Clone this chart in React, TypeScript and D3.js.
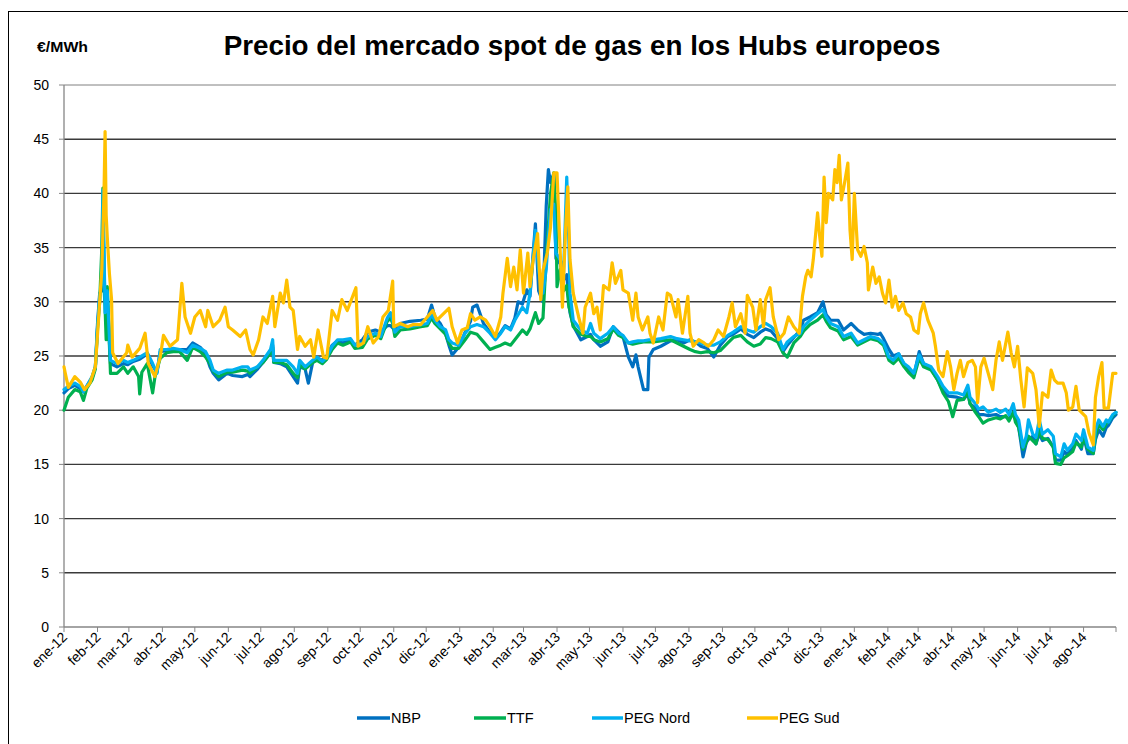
import React from "react";
import * as d3 from "d3";

// Day offsets from 2012-01-01 with price values (€/MWh)
const nbp: [number, number][] = [[0,21.6],[4,22],[10,22.3],[15,22],[18,21.7],[21,22.2],[26,23],[29,24],[31,28],[33,30.8],[35,31],[36,38],[37,33],[38,30],[40,30.5],[43,24.3],[49,24],[55,24.3],[59,24.2],[64,24.5],[70,24.7],[77,25.2],[82,24.1],[86,23.5],[89,25.4],[95,25.5],[101,25.6],[107,25.6],[114,25.6],[119,26.2],[126,25.8],[131,25.2],[135,24],[138,23.4],[143,22.8],[151,23.4],[156,23.2],[165,23.1],[170,23.3],[172,23.1],[179,23.8],[184,24.4],[191,25.3],[193,26],[194,24.4],[200,24.3],[206,24],[212,23.1],[216,22.5],[218,24],[223,23.8],[226,22.5],[230,24.4],[234,24.8],[239,24.6],[243,25],[248,26],[253,26.4],[258,26.2],[265,26.5],[269,26],[276,26.5],[281,27.2],[288,27.4],[293,27.2],[299,27.8],[302,27.8],[304,27.6],[306,27.4],[311,28],[320,28.2],[330,28.3],[336,28.4],[340,29.7],[343,28.6],[348,28],[353,27],[356,26],[359,25.1],[365,25.8],[371,27.2],[376,28.2],[378,29.5],[382,29.7],[388,28],[394,27.2],[399,26.6],[404,27.2],[408,27.8],[413,27.5],[417,28.5],[420,30],[424,29.8],[428,31.1],[431,30.5],[436,37.2],[439,31],[443,30],[446,38.8],[448,42.2],[450,41],[453,41.8],[455,34],[459,33.5],[462,32],[465,32.5],[467,30],[468,29],[471,27.8],[478,26.5],[484,26.8],[487,27],[490,26.5],[496,25.9],[503,26.3],[508,27.7],[513,27.2],[517,26.8],[522,24.9],[526,24],[529,25.1],[531,24],[536,21.9],[540,21.9],[541,24.9],[545,25.6],[552,25.9],[561,26.4],[567,26.5],[573,26.2],[579,26.5],[584,26.3],[589,25.9],[595,25.7],[601,24.9],[607,26],[614,26.8],[619,27],[626,27.5],[632,27],[638,26.7],[644,27.2],[649,27.5],[654,27.3],[660,26.6],[665,25.4],[669,26],[675,26.7],[681,27.4],[684,28.3],[690,28.6],[697,29],[702,30],[705,28.8],[709,28.3],[716,28.3],[721,27.4],[728,28],[734,27.4],[740,27],[746,27.1],[753,27],[755,27.1],[758,26.6],[763,25.6],[767,25],[772,25.2],[777,24.2],[781,23.8],[786,23.2],[791,25.4],[795,24.3],[802,23.8],[808,22.8],[813,21.8],[818,21.3],[826,21.2],[832,21],[836,21.5],[838,20.6],[843,20.2],[846,19.6],[850,19.6],[855,19.5],[862,19.6],[866,19.4],[871,19.4],[874,19.2],[878,19.8],[880,19.2],[883,18.4],[887,15.7],[890,17],[892,17.3],[896,17.6],[899,16.9],[902,17.8],[905,17.2],[910,17.4],[915,16.6],[917,15.4],[922,15.4],[925,16.2],[928,15.9],[933,16.5],[936,17.2],[941,16.4],[943,17.6],[947,16],[952,16],[954,17.3],[957,18.2],[961,17.6],[964,18.4],[966,18.6],[970,19.3],[973,19.6]];

const ttf: [number, number][] = [[0,20],[4,21.2],[10,21.9],[15,21.7],[18,20.9],[21,22],[26,22.8],[29,23.8],[31,27.5],[33,30],[35,35],[36,40.5],[37,31.4],[38,29.5],[39,26.5],[40,31.4],[43,23.4],[49,23.4],[55,24],[59,23.4],[64,24],[69,23.1],[70,21.5],[72,23.5],[77,24.3],[82,21.6],[84,23],[89,24.8],[95,25.3],[101,25.4],[107,25.4],[114,24.6],[119,25.8],[126,25.4],[131,24.9],[135,24.3],[138,23.6],[143,23.1],[151,23.5],[156,23.5],[165,23.7],[170,23.6],[172,23.4],[179,24],[184,24.4],[191,25.3],[193,25.8],[194,24.4],[200,24.4],[206,24.2],[212,23.4],[216,23],[218,24.2],[223,23.8],[230,24.4],[234,24.6],[239,24.3],[243,24.7],[248,25.6],[253,26.2],[258,26],[265,26.3],[269,25.7],[276,25.8],[281,26.6],[288,26.9],[293,26.6],[299,28.2],[302,28.5],[304,28],[306,26.8],[311,27.4],[320,27.5],[330,27.7],[336,27.8],[340,28.5],[343,28],[348,27.5],[353,27],[356,26.2],[359,25.7],[365,25.7],[371,26.5],[376,27.2],[382,27],[388,26.3],[394,25.6],[399,25.8],[404,26],[408,26.2],[413,26],[417,26.5],[424,27.4],[428,27],[431,27.5],[436,29],[439,28],[443,28.5],[446,34],[448,37],[450,40],[453,41.9],[455,38],[456,31.4],[459,33],[462,31],[465,31.5],[467,29.5],[468,29.2],[471,27.7],[478,27],[484,26.8],[487,26.8],[490,26.5],[496,26.3],[503,26.6],[508,27.5],[513,26.9],[517,26.7],[522,26.2],[526,26.1],[531,26.2],[536,26.3],[541,26.3],[545,26.3],[552,26.4],[561,26.5],[567,26.2],[573,25.9],[579,25.6],[584,25.4],[589,25.3],[595,25.4],[601,25.3],[607,25.5],[614,26.2],[619,26.7],[626,26.9],[632,26.3],[638,25.9],[644,26.1],[649,26.7],[654,26.6],[660,26.3],[665,25.3],[669,24.9],[675,26.2],[681,26.8],[684,27.3],[690,27.9],[697,28.3],[702,28.8],[705,28.2],[709,27.6],[716,27.3],[721,26.5],[728,26.8],[734,26],[740,26.3],[746,26.6],[753,26.4],[758,26],[763,24.6],[767,24.3],[772,24.8],[777,24],[781,23.5],[786,23],[791,24.8],[795,24],[802,23.7],[808,22.8],[813,21.6],[818,20.8],[822,19.4],[826,20.9],[832,21],[836,21.7],[838,20.6],[843,19.8],[846,19.4],[850,18.8],[855,19.1],[862,19.3],[866,19.2],[871,19.5],[874,19],[878,19.8],[880,18.9],[883,18.4],[887,16.4],[890,17],[892,17.6],[896,17.2],[899,16.9],[902,18.3],[905,17.4],[910,17.3],[915,16.6],[917,15.1],[922,15],[925,15.6],[928,15.8],[933,16.2],[936,17],[941,16.6],[943,17.5],[947,16.4],[952,16],[954,17.6],[957,18.7],[961,18.2],[964,18.8],[966,18.9],[970,19.5],[973,19.8]];

const pegNord: [number, number][] = [[0,21.9],[4,22.2],[10,22.5],[15,22.2],[18,21.7],[21,22.2],[26,23.1],[29,24],[31,27.7],[33,30.5],[35,32],[36,40.3],[37,35],[38,29],[40,31],[43,24.6],[49,24.3],[55,24.6],[59,24.4],[64,24.6],[70,24.9],[77,25.3],[82,24.3],[86,23.4],[89,25.6],[95,25.6],[101,25.7],[107,25.6],[114,25.3],[119,26],[126,25.7],[131,25.4],[135,24.6],[138,23.7],[143,23.4],[151,23.7],[156,23.7],[165,24],[170,24],[172,23.7],[179,24],[184,24.6],[191,25.6],[193,26.5],[194,24.6],[200,24.6],[206,24.6],[212,24],[216,23.4],[218,24.6],[223,24],[230,24.6],[234,24.9],[239,24.5],[243,24.9],[248,25.9],[253,26.5],[258,26.5],[265,26.6],[269,26],[276,26.2],[281,26.8],[288,27.1],[293,26.8],[299,28.5],[302,29],[304,28.3],[306,27.2],[311,27.7],[320,27.7],[330,27.9],[336,28],[340,28.8],[343,28.3],[348,27.7],[353,27.4],[356,26.5],[359,26.2],[365,26],[371,27.1],[376,27.7],[382,27.9],[388,27.7],[394,27.1],[399,26.5],[404,27.1],[408,27.7],[413,27.4],[417,28.3],[424,29.5],[428,29],[431,30.8],[436,36.6],[439,32.9],[443,30.8],[446,33],[448,36],[450,38.5],[453,39],[455,34.5],[459,33.9],[462,32.5],[465,41.5],[467,35.4],[468,30.8],[471,28.3],[478,27.4],[484,27.1],[487,28],[490,27.1],[496,26.6],[503,27.1],[508,27.7],[513,27.1],[517,26.9],[522,26.2],[526,26.3],[531,26.4],[536,26.4],[541,26.5],[545,26.5],[552,26.6],[561,26.8],[567,26.6],[573,26.5],[579,26.4],[584,26.3],[589,26.2],[595,26],[601,26],[607,26.3],[614,26.9],[619,27.2],[626,27.7],[632,27.4],[638,27.2],[644,27.7],[649,28],[654,27.7],[660,27.1],[665,25.6],[669,26.3],[675,26.8],[681,27.1],[684,27.7],[690,28.3],[697,28.9],[702,29.3],[705,28.6],[709,28],[716,27.7],[721,26.8],[728,27.1],[734,26.2],[740,26.5],[746,26.8],[753,26.6],[758,26.2],[763,24.9],[767,24.6],[772,25.2],[777,24.3],[781,24],[786,23.4],[791,25.1],[795,24.3],[802,24],[808,23.1],[813,22.2],[818,21.6],[826,21.6],[832,21.4],[836,22.3],[838,21.2],[843,20.6],[846,20.1],[850,20.3],[855,19.8],[862,20.1],[866,19.8],[871,20.1],[874,19.6],[878,20.6],[880,19.6],[883,19.1],[887,16.6],[890,17.6],[892,19.1],[896,17.8],[899,17.5],[902,19.1],[905,17.8],[910,18.2],[915,17.6],[917,16],[922,15.7],[925,16.9],[928,16.3],[933,16.9],[936,17.8],[941,17.2],[943,18.2],[947,16.6],[952,16.3],[954,18.2],[957,19.1],[961,18.5],[964,19.1],[966,18.9],[970,19.6],[973,19.8]];

const pegSud: [number, number][] = [[0,24],[1,23.5],[4,22.1],[10,23.1],[15,22.6],[19,21.9],[24,22.5],[29,24],[31,27],[35,33],[37,40],[38,45.7],[39,38],[40,36],[42,32.6],[44,30.2],[45,25.3],[50,24.3],[58,25.3],[59,26],[63,24.9],[70,25.7],[75,27.1],[78,24.3],[84,23.1],[89,24.9],[92,26.9],[98,25.9],[105,26.5],[109,31.7],[112,28.6],[117,27.1],[121,28.6],[126,29.2],[131,27.7],[133,29.2],[138,27.7],[144,28.3],[149,29.5],[152,27.7],[156,27.4],[163,26.8],[168,27.4],[172,25.6],[175,25.1],[180,26.5],[184,28.6],[188,28],[193,30.5],[195,27.7],[200,30.8],[203,29.9],[206,32],[209,29.5],[212,29.2],[216,25.6],[218,26.8],[223,25.9],[228,26.5],[231,24.9],[235,27.4],[240,24.9],[243,24.8],[248,29.2],[253,28.3],[257,30.2],[262,29.2],[267,30.5],[270,31.3],[272,25.9],[277,26.2],[281,27.7],[286,26.2],[291,26.8],[295,28.6],[300,29.2],[304,31.9],[305,27.7],[311,28],[318,27.7],[323,27.9],[330,27.9],[336,28.6],[341,29.2],[345,28.3],[348,28.6],[356,29.4],[359,27.7],[364,26.2],[368,27.4],[373,27.6],[376,28.9],[380,28.3],[385,28.6],[390,28.3],[394,27.7],[399,26.8],[404,28.6],[406,30.8],[410,34],[413,31.4],[416,33.2],[419,31.1],[422,34.8],[425,30.8],[429,34.5],[431,31.4],[434,33.9],[438,36.3],[441,30.2],[443,32.9],[447,34.5],[450,36.9],[453,41.9],[456,41.9],[458,36.9],[461,29.5],[464,36.9],[466,40.6],[468,33.9],[471,30.8],[473,29.9],[476,28.6],[480,27.1],[482,29.5],[487,30.8],[490,28.9],[493,29.5],[496,27.4],[499,31.5],[504,31.1],[507,33.6],[510,31.7],[515,32.9],[517,31.1],[522,30.8],[526,28.3],[529,30.8],[531,28.6],[535,27.4],[540,28.6],[542,27.1],[545,26.2],[550,28.6],[554,27.4],[558,30.8],[561,30.6],[566,28.6],[568,30.2],[572,27.1],[577,30.5],[579,27.1],[582,25.9],[587,26.5],[592,26.2],[596,25.9],[601,26.5],[605,27.4],[610,26.8],[615,28.6],[618,29.9],[621,27.7],[626,28.9],[630,27.1],[632,30.6],[637,29.5],[640,27.4],[644,30.2],[647,27.7],[649,30.2],[653,31.3],[656,28.6],[661,26.5],[666,27.1],[670,28.6],[675,27.7],[680,27.1],[683,30.5],[686,32.3],[688,32.9],[691,32.3],[693,33.9],[697,38.2],[699,36],[701,34.2],[703,41.5],[705,37.3],[707,40],[711,39.4],[713,42.2],[715,41],[717,43.5],[719,39.4],[722,41],[725,42.8],[727,36.6],[729,33.9],[731,40],[734,34.8],[737,34.2],[740,35.1],[743,33.6],[744,31.1],[748,33.2],[751,31.7],[754,32.3],[757,30.8],[760,29.9],[763,32],[766,29.5],[769,30.5],[772,29.2],[776,29.9],[779,28.9],[783,28.6],[786,27.4],[790,27.1],[792,28.9],[795,29.9],[799,28.3],[804,27.1],[806,25.9],[809,23.7],[813,23.1],[817,25.4],[820,24],[823,21.9],[826,23.4],[829,24.6],[832,23.1],[836,24.4],[840,24.6],[843,24],[845,20.7],[848,24],[851,24.8],[854,23.7],[859,21.9],[862,24.6],[865,26.3],[868,24.6],[873,27.2],[876,25.3],[879,24],[882,25.9],[885,22.8],[888,20.3],[891,23.9],[896,23.4],[899,21.9],[902,18.5],[905,21.6],[910,21.2],[913,23.7],[916,22.8],[919,22.5],[924,22.5],[927,21.6],[929,20],[933,20.3],[936,22.2],[939,20],[942,19.7],[945,19.4],[948,17.9],[952,16.8],[954,21.2],[957,23.1],[960,24.4],[962,20.2],[966,20.2],[970,23.4],[973,23.4]];

const seriesNames = ["NBP", "TTF", "PEG Nord", "PEG Sud"];
const seriesColors = ["#0070C0", "#00B050", "#00B0F0", "#FFC000"];
const seriesData = [nbp, ttf, pegNord, pegSud];
const monthNames = ["ene", "feb", "mar", "abr", "may", "jun", "jul", "ago", "sep", "oct", "nov", "dic"];
const yTicks = [0, 5, 10, 15, 20, 25, 30, 35, 40, 45, 50];
const title = "Precio del mercado spot de gas en los Hubs europeos";
const unitLabel = "€/MWh";

const FONT = "'Liberation Sans', Arial, Helvetica, sans-serif";

export default function App() {
  const start = new Date(2012, 0, 1);
  const end = new Date(2014, 7, 31);
  const left = 64, right = 1116, top = 85, bottom = 627;
  const x = d3.scaleTime().domain([start, end]).range([left, right]);
  const y = d3.scaleLinear().domain([0, 50]).range([bottom, top]);
  const toDate = (d: number) => d3.timeDay.offset(start, d);
  const line = d3.line<[number, number]>()
    .x((p) => x(toDate(p[0])))
    .y((p) => y(p[1]));
  const months = d3.timeMonth.range(start, end);
  const legendX = [357, 474, 592, 747];
  const legendLineW = [33, 32, 31, 31];

  return (
    <svg width={1128} height={744} style={{ position: "absolute", left: 0, top: 0, background: "#fff" }} fontFamily={FONT}>
      <rect x={8.5} y={11.5} width={1130} height={800} fill="#fff" stroke="#000" strokeWidth={1} />
      <text x={582} y={55} textAnchor="middle" fontSize={27.8} fontWeight="bold" fill="#000">{title}</text>
      <text x={37} y={52} fontSize={14} fontWeight="bold" fill="#000" textLength={51} lengthAdjust="spacingAndGlyphs">{unitLabel}</text>
      {yTicks.map((t) => (
        <g key={t}>
          {t > 0 && (
            <line x1={left} x2={right} y1={y(t)} y2={y(t)} stroke={t === 50 ? "#808080" : "#3a3a3a"} strokeWidth={t === 50 ? 1 : 1.4} />
          )}
          <line x1={left - 5} x2={left} y1={y(t)} y2={y(t)} stroke="#868686" />
          <text x={49} y={y(t)} dy="0.35em" textAnchor="end" fontSize={14} fill="#000">{t}</text>
        </g>
      ))}
      <line x1={left} x2={left} y1={top} y2={bottom} stroke="#868686" strokeWidth={1.3} />
      <line x1={left} x2={right} y1={bottom} y2={bottom} stroke="#868686" strokeWidth={1.3} />
      {[...months, end].map((m, i) => (
        <line key={"t" + i} x1={x(m)} x2={x(m)} y1={bottom} y2={bottom + 5} stroke="#868686" />
      ))}
      {months.map((m, i) => (
        <text key={"l" + i} transform={`translate(${x(m) + 4},${bottom + 11}) rotate(-45)`} textAnchor="end" fontSize={14} fill="#000">
          {`${monthNames[m.getMonth()]}-${String(m.getFullYear()).slice(2)}`}
        </text>
      ))}
      {seriesData.map((s, i) => (
        <path key={seriesNames[i]} d={line(s) || ""} fill="none" stroke={seriesColors[i]} strokeWidth={3.2} strokeLinejoin="round" strokeLinecap="round" />
      ))}
      {seriesNames.map((n, i) => (
        <g key={"lg" + n}>
          <line x1={legendX[i]} x2={legendX[i] + legendLineW[i]} y1={718} y2={718} stroke={seriesColors[i]} strokeWidth={3.5} />
          <text x={legendX[i] + legendLineW[i] + 1} y={718} dy="0.35em" fontSize={14.5} fill="#000">{n}</text>
        </g>
      ))}
    </svg>
  );
}
